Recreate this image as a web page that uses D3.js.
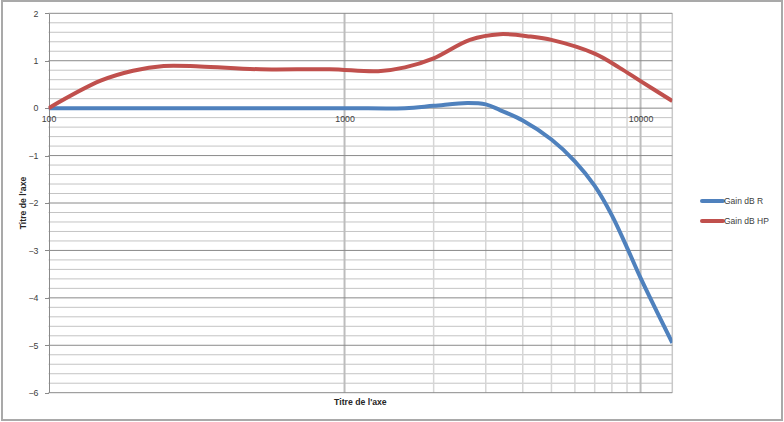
<!DOCTYPE html>
<html lang="fr">
<head>
    <meta charset="UTF-8">
    <title>Gain dB</title>
    <script src="https://d3js.org/d3.v7.min.js"></script>
    <style>
        body { margin: 0; background: #fff; }
        svg { display: block; font-family: "Liberation Sans", Arial, sans-serif; }
        .axis path, .axis line { shape-rendering: crispEdges; }
    </style>
</head>
<body>
    <svg width="784" height="422"></svg>
    <script>
        // frequences (Hz) et gains (dB)
        const freqR = [100, 400, 1000, 1600, 2000, 2600, 3000, 3350, 4000, 5000, 6000, 7000, 8000, 9000, 10000, 12800];
        const gainR = [0, 0, 0, 0, 0.05, 0.11, 0.08, -0.04, -0.26, -0.66, -1.12, -1.64, -2.26, -2.94, -3.58, -4.95];

        const freqHP = [100, 150, 193, 245, 325, 520, 890, 1300, 1600, 2000, 2650, 3350, 4250, 5000, 7000, 8500, 10000, 12800];
        const gainHP = [0, 0.58, 0.79, 0.89, 0.88, 0.82, 0.82, 0.78, 0.86, 1.05, 1.44, 1.56, 1.51, 1.44, 1.15, 0.85, 0.57, 0.15];

        const seriesNames = ["Gain dB R", "Gain dB HP"];
        const seriesColors = ["#4f81bd", "#c0504d"];

        const xTicks = [100, 1000, 10000];
        const xMinor = [2000, 3000, 4000, 5000, 6000, 7000, 8000, 9000];
        const yTicks = [2, 1, 0, -1, -2, -3, -4, -5, -6];
        const axisTitle = "Titre de l'axe";

        const svg = d3.select("svg");
        const pL = 48.5, pR = 672.3, pT = 13.3, pB = 392.7;

        const x = d3.scaleLog().domain([100, 12800]).range([pL, pR]);
        const y = d3.scaleLinear().domain([-6, 2]).range([pB, pT]);

        // cadre exterieur
        svg.append("rect")
            .attr("x", 2).attr("y", 1)
            .attr("width", 780).attr("height", 419)
            .attr("fill", "#fff")
            .attr("stroke", "#a9a9a9")
            .attr("stroke-width", 2);

        // quadrillage horizontal secondaire (pas de 0.2)
        const yMinor = d3.range(-30, 11).map(i => i / 5).filter(v => !Number.isInteger(v));
        svg.append("g").selectAll("line")
            .data(yMinor)
            .join("line")
            .attr("x1", pL).attr("x2", pR)
            .attr("y1", d => y(d)).attr("y2", d => y(d))
            .attr("stroke", "#c4c4c4").attr("stroke-width", 1);

        // quadrillage vertical
        svg.append("g").selectAll("line")
            .data(xMinor)
            .join("line")
            .attr("x1", d => x(d)).attr("x2", d => x(d))
            .attr("y1", pT).attr("y2", pB)
            .attr("stroke", "#d6d6d6").attr("stroke-width", 1.5);

        svg.append("g").selectAll("line")
            .data(xTicks.slice(1))
            .join("line")
            .attr("x1", d => x(d)).attr("x2", d => x(d))
            .attr("y1", pT).attr("y2", pB)
            .attr("stroke", "#bdbdbd").attr("stroke-width", 2);

        svg.append("line")
            .attr("x1", pR).attr("x2", pR)
            .attr("y1", pT).attr("y2", pB)
            .attr("stroke", "#c8c8c8").attr("stroke-width", 1.5);

        // quadrillage horizontal principal
        svg.append("g").selectAll("line")
            .data(yTicks)
            .join("line")
            .attr("x1", pL).attr("x2", pR)
            .attr("y1", d => y(d)).attr("y2", d => y(d))
            .attr("stroke", "#8a8a8a").attr("stroke-width", 1);

        // axe vertical
        const yAxis = svg.append("g")
            .attr("class", "axis")
            .attr("transform", `translate(${pL},0)`)
            .call(d3.axisLeft(y).tickValues(yTicks).tickSize(4).tickSizeOuter(0).tickPadding(6).tickFormat(d3.format("d")));
        yAxis.select(".domain").attr("stroke", "#8a8a8a");
        yAxis.selectAll(".tick line").attr("stroke", "#8a8a8a");
        yAxis.selectAll("text")
            .attr("font-size", 8.8).attr("fill", "#404040")
            .attr("font-family", "Liberation Sans, Arial, sans-serif");

        // axe horizontal (coupe en y = 0)
        const xAxis = svg.append("g")
            .attr("class", "axis")
            .attr("transform", `translate(0,${y(0)})`)
            .call(d3.axisBottom(x).tickValues(xTicks).tickSize(0).tickPadding(8).tickFormat(d3.format("d")));
        xAxis.select(".domain").remove();
        xAxis.selectAll("text")
            .attr("font-size", 8.8).attr("fill", "#404040")
            .attr("font-family", "Liberation Sans, Arial, sans-serif");

        // titres des axes
        svg.append("text")
            .attr("x", (pL + pR) / 2).attr("y", 405)
            .attr("text-anchor", "middle")
            .attr("font-size", 8.7).attr("font-weight", "bold").attr("fill", "#262626")
            .text(axisTitle);

        svg.append("text")
            .attr("transform", `translate(26,${(pT + pB) / 2}) rotate(-90)`)
            .attr("text-anchor", "middle")
            .attr("font-size", 8.7).attr("font-weight", "bold").attr("fill", "#262626")
            .text(axisTitle);

        // courbes lissees
        svg.append("defs").append("clipPath").attr("id", "plot")
            .append("rect")
            .attr("x", pL).attr("y", pT - 5)
            .attr("width", pR - pL).attr("height", pB - pT + 10);

        const line = d3.line()
            .x(d => x(d[0]))
            .y(d => y(d[1]))
            .curve(d3.curveCatmullRom.alpha(0.5));

        const series = [d3.zip(freqR, gainR), d3.zip(freqHP, gainHP)];

        svg.append("g").attr("clip-path", "url(#plot)")
            .selectAll("path")
            .data(series)
            .join("path")
            .attr("d", line)
            .attr("fill", "none")
            .attr("stroke", (d, i) => seriesColors[i])
            .attr("stroke-width", 4)
            .attr("stroke-linejoin", "round");

        // legende
        const legend = svg.append("g").selectAll("g")
            .data(seriesNames)
            .join("g")
            .attr("transform", (d, i) => `translate(702,${201 + i * 20})`);

        legend.append("line")
            .attr("x1", 0).attr("x2", 21)
            .attr("stroke", (d, i) => seriesColors[i])
            .attr("stroke-width", 4)
            .attr("stroke-linecap", "round");

        legend.append("text")
            .attr("x", 22).attr("dy", "0.35em")
            .attr("font-size", 8.5).attr("fill", "#404040")
            .text(d => d);
    </script>
</body>
</html>
